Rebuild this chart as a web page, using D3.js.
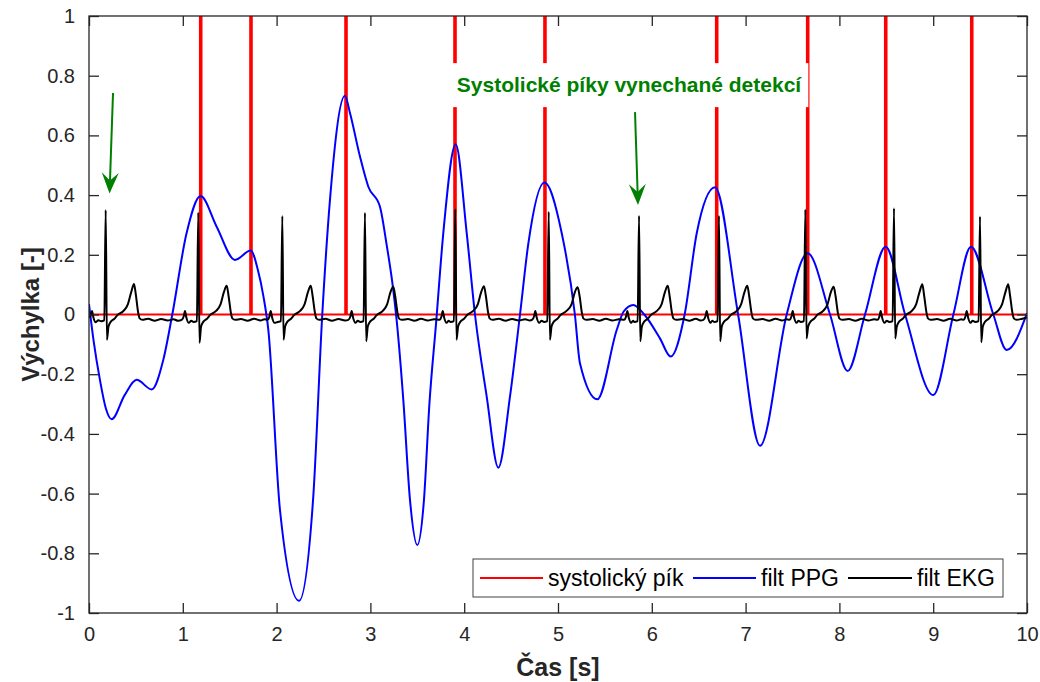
<!DOCTYPE html>
<html>
<head>
<meta charset="utf-8">
<script src="https://cdn.jsdelivr.net/npm/d3@7"></script>
<title>PPG a EKG</title>
<style>
    body { margin: 0; background: #fff; }
    svg text { font-family: Arial, "Liberation Sans", Helvetica, sans-serif; }
</style>
</head>
<body>
<svg id="chart" width="1040" height="682"></svg>

<script>
    // --- data ---
    const xTicks = [0, 1, 2, 3, 4, 5, 6, 7, 8, 9, 10];
    const yTicks = [-1, -0.8, -0.6, -0.4, -0.2, 0, 0.2, 0.4, 0.6, 0.8, 1];

    const seriesNames = ["systolický pík", "filt PPG", "filt EKG"];
    const seriesColors = ["#ff0000", "#0000ff", "#000000"];

    // detected systolic peaks (s)
    const peakTimes = [1.191, 1.727, 2.740, 3.902, 4.861, 6.692, 7.662, 8.494, 9.411];

    // filtered PPG [t, value]
    const ppgPoints = [
        [0, 0.035], [0.05, -0.09], [0.117, -0.22], [0.18, -0.315], [0.242, -0.351], [0.38, -0.27], [0.508, -0.219],
        [0.668, -0.251], [0.792, -0.152], [0.888, 0], [1.04, 0.272], [1.19, 0.397], [1.361, 0.294],
        [1.556, 0.183], [1.724, 0.214], [1.80, 0.15], [1.86, 0.06], [1.912, -0.052], [2.036, -0.655],
        [2.239, -0.959], [2.391, -0.61], [2.487, 0], [2.569, 0.384], [2.729, 0.733], [2.783, 0.674],
        [2.889, 0.529], [2.978, 0.428], [3.102, 0.361], [3.17, 0.24], [3.244, 0.082], [3.28, -0.02],
        [3.351, -0.287], [3.422, -0.621], [3.50, -0.772], [3.571, -0.621], [3.629, -0.30], [3.70, -0.03],
        [3.777, 0.272], [3.909, 0.570], [4.027, 0.272], [4.115, 0], [4.24, -0.275], [4.364, -0.513],
        [4.488, -0.275], [4.595, 0], [4.684, 0.238], [4.854, 0.442], [5.04, 0.272], [5.18, 0],
        [5.234, -0.163], [5.419, -0.284], [5.626, -0.052], [5.70, 0.01], [5.803, 0.032], [5.92, 0],
        [6.087, -0.08], [6.201, -0.141], [6.35, 0], [6.479, 0.272], [6.674, 0.426], [6.92, 0],
        [7.154, -0.44], [7.438, 0], [7.662, 0.205], [7.90, 0], [8.088, -0.189], [8.273, 0],
        [8.493, 0.227], [8.70, 0], [9.001, -0.27], [9.215, 0], [9.403, 0.227], [9.641, 0],
        [9.783, -0.119], [10, 0.005]
    ];

    // filtered ECG [t, value]
    const ekgPoints = [
        [0, -0.01], [0.02, -0.002], [0.032, 0.012], [0.047, -0.01], [0.072, -0.026], [0.1, -0.019], [0.128, -0.023],
        [0.163, -0.02], [0.178, 0.35], [0.191, -0.085], [0.208, -0.04], [0.233, -0.024], [0.268, -0.015],
        [0.303, -0.002], [0.368, 0.012], [0.415, 0.035], [0.45, 0.075], [0.48, 0.102], [0.5, 0.065],
        [0.525, 0.005], [0.54, -0.013], [0.57, -0.018], [0.63, -0.014], [0.70, -0.021], [0.77, -0.015],
        [0.84, -0.02], [0.90, -0.016], [0.95, -0.021],

        [0.988, -0.018], [1.011, -0.005], [1.023, 0.012], [1.038, -0.01], [1.063, -0.028], [1.09, -0.021], [1.115, -0.025],
        [1.15, -0.022], [1.165, 0.342], [1.178, -0.095], [1.195, -0.04], [1.22, -0.024], [1.255, -0.015],
        [1.29, -0.002], [1.355, 0.012], [1.403, 0.035], [1.438, 0.075], [1.468, 0.096], [1.488, 0.062],
        [1.513, 0.005], [1.528, -0.013], [1.558, -0.018], [1.62, -0.015], [1.69, -0.021], [1.76, -0.014],
        [1.83, -0.02], [1.87, -0.016],

        [1.902, -0.018], [1.925, -0.005], [1.937, 0.012], [1.952, -0.01], [1.977, -0.028], [2.011, -0.025],
        [2.046, -0.022], [2.061, 0.330], [2.074, -0.085], [2.091, -0.04], [2.116, -0.024], [2.151, -0.015],
        [2.186, -0.002], [2.251, 0.012], [2.299, 0.035], [2.334, 0.075], [2.364, 0.096], [2.384, 0.062],
        [2.409, 0.005], [2.424, -0.013], [2.454, -0.018], [2.52, -0.014], [2.59, -0.021], [2.66, -0.015],
        [2.73, -0.02],

        [2.765, -0.018], [2.788, -0.005], [2.8, 0.012], [2.815, -0.01], [2.84, -0.028], [2.865, -0.021], [2.892, -0.025],
        [2.927, -0.022], [2.942, 0.341], [2.955, -0.09], [2.972, -0.04], [2.997, -0.024], [3.032, -0.015],
        [3.067, -0.002], [3.132, 0.012], [3.179, 0.035], [3.214, 0.075], [3.244, 0.093], [3.264, 0.062],
        [3.289, 0.005], [3.304, -0.013], [3.334, -0.018], [3.40, -0.015], [3.47, -0.021], [3.54, -0.014],
        [3.61, -0.02], [3.68, -0.016],

        [3.736, -0.018], [3.759, -0.005], [3.771, 0.012], [3.786, -0.01], [3.811, -0.028], [3.835, -0.021], [3.855, -0.025],
        [3.89, -0.022], [3.905, 0.353], [3.918, -0.085], [3.935, -0.04], [3.96, -0.024], [3.995, -0.015],
        [4.03, -0.002], [4.095, 0.012], [4.146, 0.035], [4.181, 0.075], [4.211, 0.095], [4.231, 0.062],
        [4.256, 0.005], [4.271, -0.013], [4.301, -0.018], [4.37, -0.014], [4.44, -0.021], [4.51, -0.015],
        [4.58, -0.02], [4.65, -0.016], [4.70, -0.02],

        [4.723, -0.018], [4.746, -0.005], [4.758, 0.012], [4.773, -0.01], [4.798, -0.028], [4.825, -0.021], [4.851, -0.025],
        [4.886, -0.022], [4.901, 0.344], [4.914, -0.085], [4.931, -0.04], [4.956, -0.024], [4.991, -0.015],
        [5.026, -0.002], [5.091, 0.012], [5.145, 0.035], [5.18, 0.075], [5.21, 0.091], [5.23, 0.062],
        [5.255, 0.005], [5.27, -0.013], [5.3, -0.018], [5.37, -0.015], [5.44, -0.021], [5.51, -0.014],
        [5.58, -0.02], [5.65, -0.016],

        [5.704, -0.018], [5.727, -0.005], [5.739, 0.012], [5.754, -0.01], [5.779, -0.028], [5.8, -0.021], [5.814, -0.025],
        [5.849, -0.022], [5.864, 0.331], [5.877, -0.09], [5.894, -0.04], [5.919, -0.024], [5.954, -0.015],
        [5.989, -0.002], [6.054, 0.012], [6.105, 0.035], [6.14, 0.075], [6.17, 0.096], [6.19, 0.062],
        [6.215, 0.005], [6.23, -0.013], [6.26, -0.018], [6.33, -0.015], [6.40, -0.021], [6.47, -0.014],
        [6.52, -0.02],

        [6.55, -0.018], [6.573, -0.005], [6.585, 0.012], [6.6, -0.01], [6.625, -0.028], [6.645, -0.021], [6.666, -0.025],
        [6.701, -0.022], [6.716, 0.331], [6.729, -0.09], [6.746, -0.04], [6.771, -0.024], [6.806, -0.015],
        [6.841, -0.002], [6.906, 0.012], [6.953, 0.035], [6.988, 0.075], [7.018, 0.096], [7.038, 0.062],
        [7.063, 0.005], [7.078, -0.013], [7.108, -0.018], [7.18, -0.015], [7.25, -0.021], [7.32, -0.014],
        [7.39, -0.02], [7.44, -0.016],

        [7.467, -0.018], [7.49, -0.005], [7.502, 0.012], [7.517, -0.01], [7.542, -0.028], [7.565, -0.021], [7.587, -0.025],
        [7.622, -0.022], [7.637, 0.352], [7.65, -0.08], [7.667, -0.04], [7.692, -0.024], [7.727, -0.015],
        [7.762, -0.002], [7.827, 0.012], [7.874, 0.035], [7.909, 0.075], [7.939, 0.093], [7.959, 0.062],
        [7.984, 0.005], [7.999, -0.013], [8.029, -0.018], [8.10, -0.015], [8.17, -0.021], [8.24, -0.014],
        [8.31, -0.02], [8.37, -0.016],

        [8.405, -0.018], [8.428, -0.005], [8.44, 0.012], [8.455, -0.01], [8.48, -0.028], [8.505, -0.021], [8.532, -0.025],
        [8.567, -0.022], [8.582, 0.356], [8.595, -0.08], [8.612, -0.04], [8.637, -0.024], [8.672, -0.015],
        [8.707, -0.002], [8.772, 0.012], [8.819, 0.035], [8.854, 0.075], [8.884, 0.101], [8.904, 0.062],
        [8.929, 0.005], [8.944, -0.013], [8.974, -0.018], [9.04, -0.015], [9.11, -0.021], [9.18, -0.014],
        [9.25, -0.02], [9.30, -0.016],

        [9.322, -0.018], [9.345, -0.005], [9.357, 0.012], [9.372, -0.01], [9.397, -0.028], [9.42, -0.021], [9.449, -0.025],
        [9.484, -0.022], [9.499, 0.328], [9.512, -0.093], [9.529, -0.04], [9.554, -0.024], [9.589, -0.015],
        [9.624, -0.002], [9.689, 0.012], [9.735, 0.035], [9.77, 0.075], [9.8, 0.101], [9.82, 0.062],
        [9.845, 0.005], [9.86, -0.013], [9.89, -0.018], [9.95, -0.014], [10, -0.01]
    ];

    const noteText = "Systolické píky vynechané detekcí";
    const notePos = [5.757, 0.745];
    // arrows pointing at beats without a detected peak: [from, to] in data units
    const arrows = [
        [[0.256, 0.742], [0.219, 0.405]],
        [[5.821, 0.678], [5.853, 0.367]]
    ];

    // --- layout ---
    const width = 1040, height = 682;
    const margin = {top: 16, right: 13, bottom: 69, left: 89};
    const axisColor = "#262626";
    const green = "#008000";

    const svg = d3.select("#chart");

    const x = d3.scaleLinear().domain([0, 10]).range([margin.left, width - margin.right]);
    const y = d3.scaleLinear().domain([-1, 1]).range([height - margin.bottom, margin.top]);

    svg.append("rect").attr("width", width).attr("height", height).attr("fill", "#fff");

    svg.append("clipPath").attr("id", "plot-clip")
        .append("rect")
        .attr("x", margin.left).attr("y", margin.top)
        .attr("width", x(10) - x(0)).attr("height", y(-1) - y(1));

    // red detection trace: zero with a narrow pulse at each peak
    const pulseHalf = 0.009;
    const redPoints = [[0, 0]];
    peakTimes.forEach(p => {
        redPoints.push([p - pulseHalf, 0], [p - pulseHalf, 5], [p + pulseHalf, 5], [p + pulseHalf, 0]);
    });
    redPoints.push([10, 0]);

    const straight = d3.line().x(d => x(d[0])).y(d => y(d[1]));
    const smooth = d3.line().x(d => x(d[0])).y(d => y(d[1])).curve(d3.curveMonotoneX);

    const plot = svg.append("g").attr("clip-path", "url(#plot-clip)");

    plot.append("path").datum(redPoints)
        .attr("d", straight).attr("fill", "none")
        .attr("stroke", seriesColors[0]).attr("stroke-width", 1.9);

    plot.append("path").datum(ppgPoints)
        .attr("d", smooth).attr("fill", "none")
        .attr("stroke", seriesColors[1]).attr("stroke-width", 2);

    plot.append("path").datum(ekgPoints)
        .attr("d", smooth).attr("fill", "none")
        .attr("stroke", seriesColors[2]).attr("stroke-width", 2)
        .attr("stroke-linejoin", "round");

    // --- axes (MATLAB box with inward ticks) ---
    const fmt = d => String(+d.toFixed(1));

    svg.append("g")
        .attr("transform", `translate(0,${y(-1)})`)
        .call(d3.axisBottom(x).tickValues(xTicks).tickFormat(fmt)
            .tickSizeInner(-10).tickSizeOuter(0).tickPadding(14));

    svg.append("g")
        .attr("transform", `translate(${x(0)},0)`)
        .call(d3.axisLeft(y).tickValues(yTicks).tickFormat(fmt)
            .tickSizeInner(-10).tickSizeOuter(0).tickPadding(14));

    svg.append("g")
        .attr("transform", `translate(0,${y(1)})`)
        .call(d3.axisTop(x).tickValues(xTicks).tickFormat("")
            .tickSizeInner(-10).tickSizeOuter(0));

    svg.append("g")
        .attr("transform", `translate(${x(10)},0)`)
        .call(d3.axisRight(y).tickValues(yTicks).tickFormat("")
            .tickSizeInner(-10).tickSizeOuter(0));

    svg.selectAll(".domain").remove();
    svg.selectAll(".tick line").attr("stroke", axisColor).attr("stroke-width", 1.3);
    svg.selectAll(".tick text").attr("fill", axisColor).style("font-size", "20px");

    svg.append("rect")
        .attr("x", x(0)).attr("y", y(1))
        .attr("width", x(10) - x(0)).attr("height", y(-1) - y(1))
        .attr("fill", "none").attr("stroke", axisColor).attr("stroke-width", 1.3);

    svg.append("text")
        .attr("x", x(5)).attr("y", 676)
        .attr("text-anchor", "middle")
        .attr("fill", axisColor)
        .style("font-size", "25px").style("font-weight", "bold")
        .text("Čas [s]");

    svg.append("text")
        .attr("transform", `translate(39,${y(0)}) rotate(-90)`)
        .attr("text-anchor", "middle")
        .attr("fill", axisColor)
        .style("font-size", "24px").style("font-weight", "bold")
        .text("Výchylka [-]");

    // --- annotation ---
    const noteBox = svg.append("rect").attr("fill", "#fff");
    const note = svg.append("text")
        .attr("x", x(notePos[0])).attr("y", y(notePos[1]))
        .attr("text-anchor", "middle")
        .attr("fill", green)
        .style("font-size", "21px").style("font-weight", "bold")
        .text(noteText);
    const bb = note.node().getBBox();
    noteBox.attr("x", bb.x - 6).attr("y", bb.y - 10)
        .attr("width", bb.width + 12).attr("height", bb.height + 21);

    arrows.forEach(([from, to]) => {
        const x0 = x(from[0]), y0 = y(from[1]), x1 = x(to[0]), y1 = y(to[1]);
        const len = Math.hypot(x1 - x0, y1 - y0);
        const ux = (x1 - x0) / len, uy = (y1 - y0) / len;
        const headLen = 21, headHalf = 8.5, notch = 13;
        svg.append("line")
            .attr("x1", x0).attr("y1", y0)
            .attr("x2", x1 - ux * notch).attr("y2", y1 - uy * notch)
            .attr("stroke", green).attr("stroke-width", 2);
        const bx = x1 - ux * headLen, by = y1 - uy * headLen;
        const head = [
            [x1, y1],
            [bx - uy * headHalf, by + ux * headHalf],
            [x1 - ux * notch, y1 - uy * notch],
            [bx + uy * headHalf, by - ux * headHalf]
        ];
        svg.append("path")
            .attr("d", "M" + head.map(p => p.join(",")).join("L") + "Z")
            .attr("fill", green);
    });

    // --- legend ---
    const legend = svg.append("g").attr("transform", "translate(473,559)");
    legend.append("rect")
        .attr("width", 530).attr("height", 38)
        .attr("fill", "#fff").attr("stroke", "#404040").attr("stroke-width", 1);

    const legendX = [[7, 70, 75], [220, 283, 288], [375, 439, 444]];
    seriesNames.forEach((name, i) => {
        const [l0, l1, tx] = legendX[i];
        legend.append("line")
            .attr("x1", l0).attr("x2", l1).attr("y1", 19).attr("y2", 19)
            .attr("stroke", seriesColors[i]).attr("stroke-width", 2);
        legend.append("text")
            .attr("x", tx).attr("y", 27)
            .attr("fill", "#000")
            .style("font-size", "23px")
            .text(name);
    });
</script>
</body>
</html>
